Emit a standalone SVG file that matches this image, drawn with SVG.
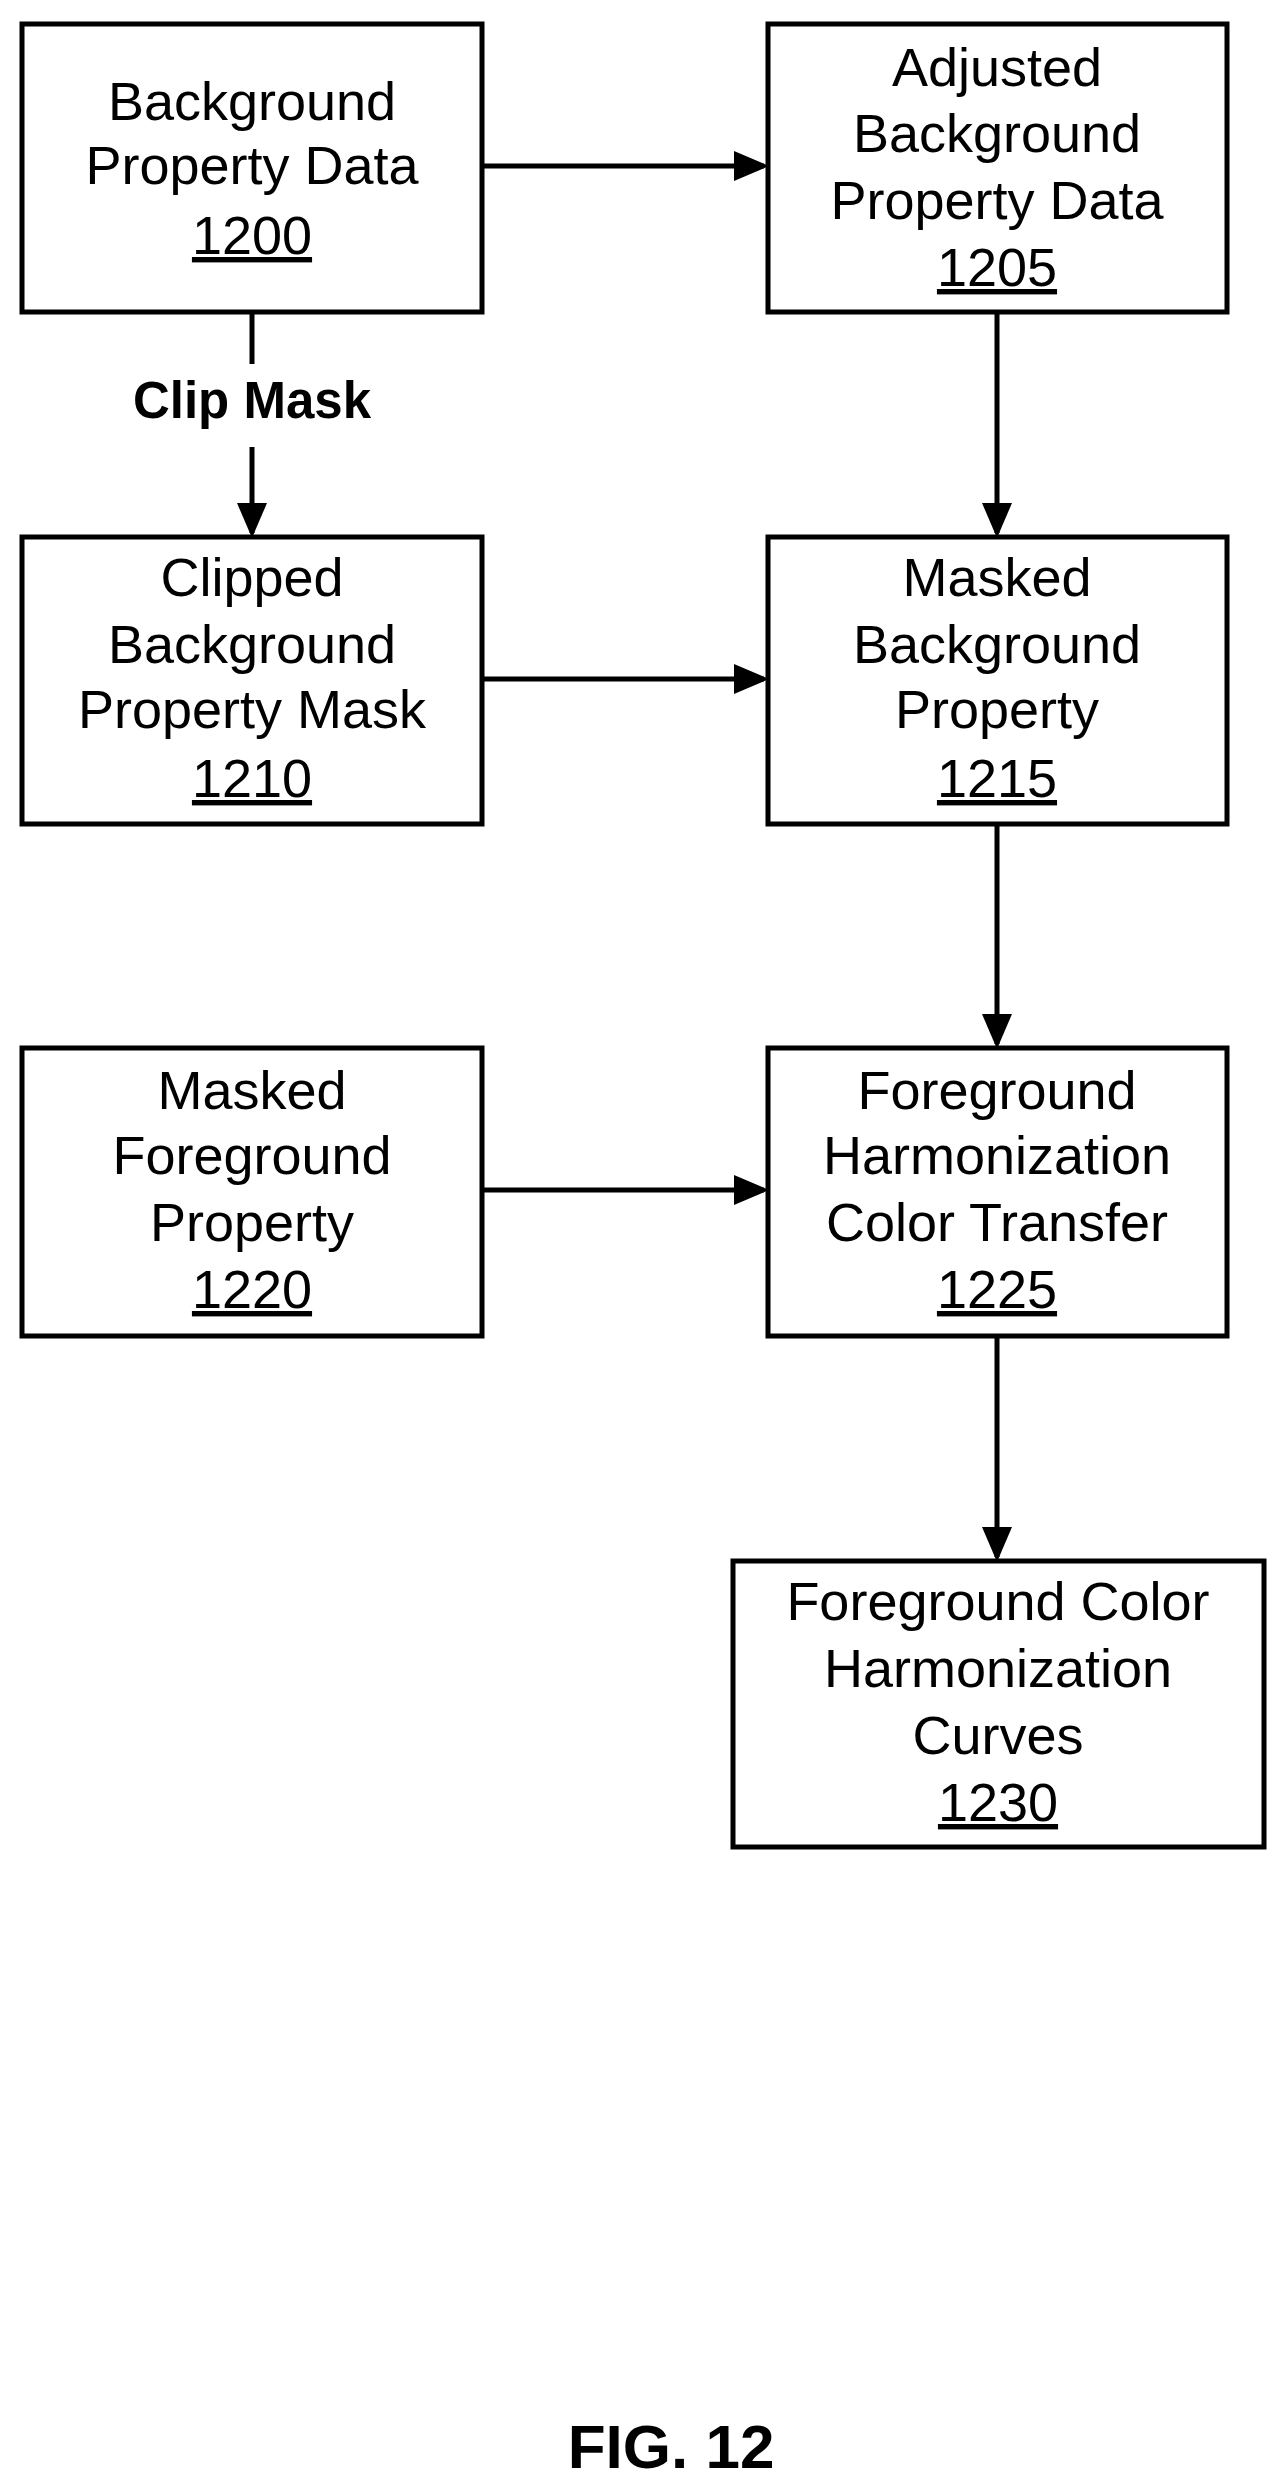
<svg xmlns="http://www.w3.org/2000/svg" width="1278" height="2484" viewBox="0 0 1278 2484">
<style>
rect{fill:#fff;stroke:#000;stroke-width:5}
text{font-family:"Liberation Sans",Arial,sans-serif;font-size:54px;text-anchor:middle;fill:#000}
.n{text-decoration:underline}
.b{font-weight:bold;font-size:51px}
.c line{stroke:#000;stroke-width:5;marker-end:url(#a)}
</style>
<defs><marker id="a" markerWidth="7" markerHeight="7" refX="6" refY="3.5" orient="auto" markerUnits="strokeWidth"><path d="M0,0.5 L7,3.5 L0,6.5 Z" fill="#000"/></marker></defs>
<rect width="1278" height="2484" style="stroke:none"/>
<g id="n1200"><rect x="22" y="24" width="460" height="288"/><text x="252" y="120">Background</text><text x="252" y="184">Property Data</text><text class="n" x="252" y="254">1200</text></g>
<g id="n1205"><rect x="768" y="24" width="459" height="288"/><text x="997" y="86">Adjusted</text><text x="997" y="152">Background</text><text x="997" y="219">Property Data</text><text class="n" x="997" y="286">1205</text></g>
<g id="n1210"><rect x="22" y="537" width="460" height="287"/><text x="252" y="596">Clipped</text><text x="252" y="663">Background</text><text x="252" y="728">Property Mask</text><text class="n" x="252" y="797">1210</text></g>
<g id="n1215"><rect x="768" y="537" width="459" height="287"/><text x="997" y="596">Masked</text><text x="997" y="663">Background</text><text x="997" y="728">Property</text><text class="n" x="997" y="797">1215</text></g>
<g id="n1220"><rect x="22" y="1048" width="460" height="288"/><text x="252" y="1109">Masked</text><text x="252" y="1174">Foreground</text><text x="252" y="1241">Property</text><text class="n" x="252" y="1308">1220</text></g>
<g id="n1225"><rect x="768" y="1048" width="459" height="288"/><text x="997" y="1109">Foreground</text><text x="997" y="1174">Harmonization</text><text x="997" y="1241">Color Transfer</text><text class="n" x="997" y="1308">1225</text></g>
<g id="n1230"><rect x="733" y="1561" width="531" height="286"/><text x="998" y="1620">Foreground Color</text><text x="998" y="1687">Harmonization</text><text x="998" y="1754">Curves</text><text class="n" x="998" y="1821">1230</text></g>
<g class="c">
<line x1="482" y1="166" x2="764" y2="166"/>
<line x1="252" y1="312" x2="252" y2="364" style="marker-end:none"/>
<line x1="252" y1="447" x2="252" y2="533"/>
<line x1="997" y1="312" x2="997" y2="533"/>
<line x1="482" y1="679" x2="764" y2="679"/>
<line x1="997" y1="824" x2="997" y2="1044"/>
<line x1="482" y1="1190" x2="764" y2="1190"/>
<line x1="997" y1="1336" x2="997" y2="1557"/>
</g>
<text class="b" x="252" y="418">Clip Mask</text>
<text x="671" y="2468" style="font-weight:bold;font-size:62px">FIG. 12</text>
</svg>
